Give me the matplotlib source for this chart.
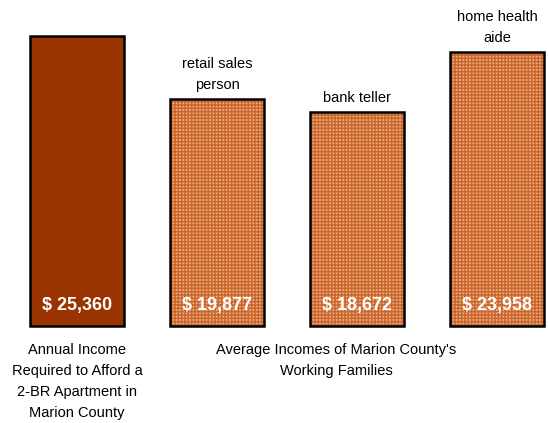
import matplotlib.pyplot as plt
import matplotlib as mpl

# annual income needed for a 2-BR apartment vs. what working families earn

labels = ['', 'retail sales\nperson', 'bank teller', 'home health\naide']
incomes = [25360, 19877, 18672, 23958]
value_text = ['$ 25,360', '$ 19,877', '$ 18,672', '$ 23,958']

plt.rcParams['font.family'] = ['Liberation Sans', 'DejaVu Sans']
mpl.rcParams['hatch.linewidth'] = 1.1

fig = plt.figure(figsize=(5.48, 4.23), dpi=100)
ax = fig.add_axes([0, 0, 1, 1])

x = list(range(len(incomes)))
w = 0.67

# solid bar for required income
ax.bar(x[0], incomes[0], width=w, color='#993300', edgecolor='black', linewidth=1.8, zorder=2)

# fine dotted texture for the family incomes: light fill under a dense dark grid
ax.bar(x[1:], incomes[1:], width=w, color='#f2b080', edgecolor='#c8662f',
       hatch='+++++', linewidth=0, zorder=2)
ax.bar(x[1:], incomes[1:], width=w, fill=False, edgecolor='black', linewidth=1.8, zorder=3)

for xi, v, t, lab in zip(x, incomes, value_text, labels):
    ax.annotate(t, (xi, 0), xytext=(0, 15), textcoords='offset points',
                ha='center', va='center', color='white', fontsize=13,
                fontweight='bold', zorder=4)
    if lab:
        ax.annotate(lab, (xi, v), xytext=(0, 5), textcoords='offset points',
                    ha='center', va='bottom', fontsize=10.5, linespacing=1.65)

ax.annotate('Annual Income\nRequired to Afford a\n2-BR Apartment in\nMarion County',
            (0, 0), xytext=(0, -12), textcoords='offset points',
            ha='center', va='top', fontsize=10.5, linespacing=1.65)
ax.annotate("Average Incomes of Marion County's\nWorking Families",
            (1.85, 0), xytext=(0, -12), textcoords='offset points',
            ha='center', va='top', fontsize=10.5, linespacing=1.65)

ax.set_xlim(-0.55, 3.364)
ax.set_ylim(-8479, 28497)
ax.axis('off')

fig.savefig('out.png', dpi=100)
